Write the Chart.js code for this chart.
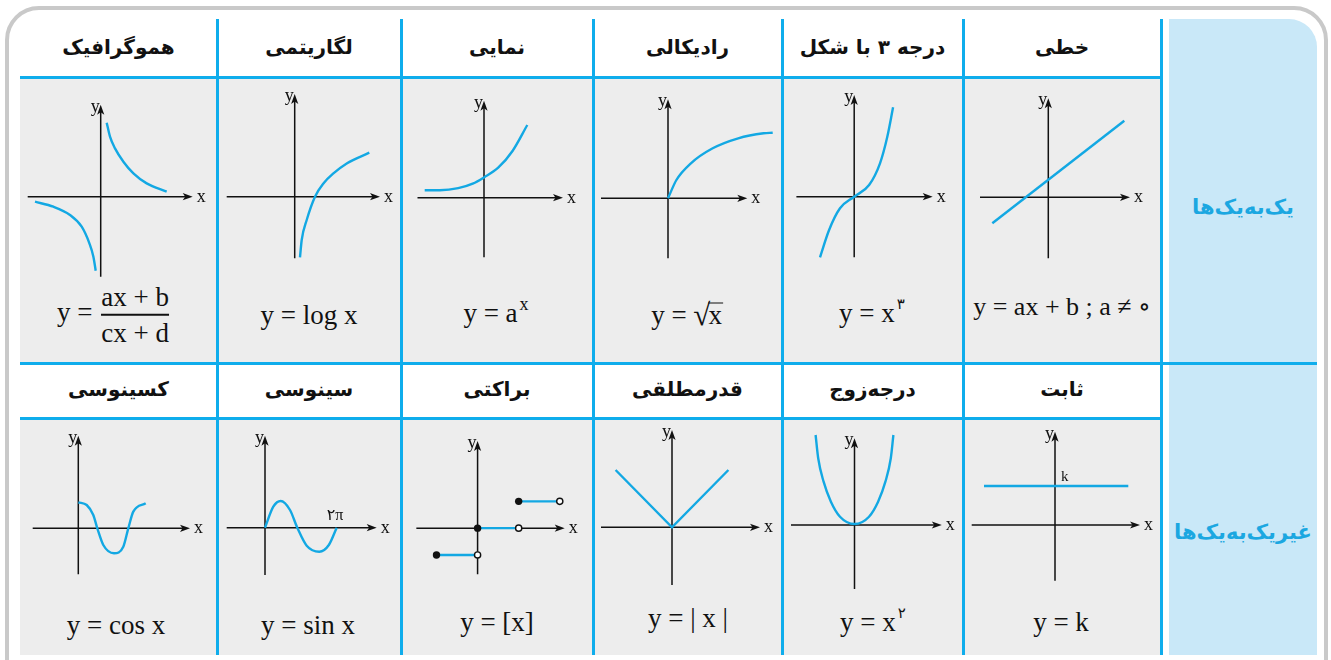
<!DOCTYPE html>
<html lang="fa">
<head>
<meta charset="utf-8">
<title>functions table</title>
<script src="https://cdn.jsdelivr.net/npm/chart.js@4.4.1/dist/chart.umd.min.js"></script>
<style>
  body { margin:0; width:1331px; height:660px; overflow:hidden; background:#fff; position:relative; }
  .abs { position:absolute; }
  .frame { left:5px; top:6px; width:1323px; height:720px; border:4px solid #c9c9c9; border-radius:34px; box-sizing:border-box; }
  .side { left:1169px; top:19px; width:148px; height:636px; background:#c9e8f8; border-top-right-radius:28px; }
  .grey { background:#ededed; }
  .blue { background:#0fadec; }
  .head { font-family:"DejaVu Sans", sans-serif; font-weight:bold; font-size:20px; text-align:center; direction:rtl; color:#111; }
  .side-label { font-family:"DejaVu Sans", sans-serif; font-weight:bold; font-size:21px; color:#1ba7e1; direction:rtl; text-align:center; width:148px; left:1169px; transform:translateY(-50%); }
  .formula { font-family:"Liberation Serif", "DejaVu Serif", serif; font-size:27px; line-height:1; white-space:nowrap; color:#111; transform:translate(-50%,-50%); }
  .formula sup { font-size:18px; vertical-align:0; position:relative; top:-12px; margin-left:2px; }
  .formula sup.fa { font-family:"DejaVu Sans", sans-serif; font-size:15px; top:-13px; }
  .frac { display:inline-flex; flex-direction:column; align-items:center; vertical-align:middle; margin-left:2px; }
  .frac .bar { display:block; width:100%; height:1.5px; background:#111; margin:3px 0 4px; }
  .rad { font-size:31px; position:relative; top:1px; }
  .ov { display:inline-block; line-height:22px; border-top:1.5px solid #111; margin-left:-2px; padding-right:1px; }
</style>
</head>
<body>
<div id="page"></div>
<script>
// ---- values ----
const titlesTop = ['هموگرافیک', 'لگاریتمی', 'نمایی', 'رادیکالی', 'درجه ۳ با شکل', 'خطی'];
const titlesBottom = ['کسینوسی', 'سینوسی', 'براکتی', 'قدرمطلقی', 'درجه‌زوج', 'ثابت'];
const groupLabels = ['یک‌به‌یک‌ها', 'غیریک‌به‌یک‌ها'];

const formulas = [
  'y = <span class="frac"><span>ax + b</span><i class="bar"></i><span>cx + d</span></span>',
  'y = log x',
  'y = a<sup>x</sup>',
  'y = <span class="rad">√</span><span class="ov">x</span>',
  'y = x<sup class="fa">۳</sup>',
  'y = ax + b ; a ≠ ∘',
  'y = cos x',
  'y = sin x',
  'y = [x]',
  'y = | x |',
  'y = x<sup class="fa">۲</sup>',
  'y = k'
];

// curves, [x, y] in graph units
const homographicRight = [[0.6,7.4],[0.93,6.0],[1.43,4.83],[2.27,3.5],[3.27,2.33],[4.6,1.33],[6.6,0.5]];
const homographicLeft = [[-6.57,-0.5],[-4.73,-1.0],[-3.07,-1.83],[-1.9,-3.0],[-1.13,-4.67],[-0.73,-6.0],[-0.5,-7.4]];
const logCurve = [[0.53,-6.06],[0.7,-4.33],[1.2,-2.33],[2.03,0],[2.87,1.33],[3.87,2.33],[5.2,3.33],[7.46,4.4]];
const expCurve = [[-5.93,0.75],[-4.4,0.75],[-2.58,0.95],[-1.13,1.4],[0,2.03],[1.42,3.0],[2.87,4.7],[4.33,7.27]];
const sqrtCurve = [[0,0],[0.84,1.83],[2.29,3.5],[4.47,5.0],[7.02,6.0],[9.56,6.5],[10.47,6.56]];
const cubeCurve = [[-3.42,-6.06],[-2.51,-3.33],[-1.42,-1.16],[0,0],[1.49,1.17],[2.58,3.34],[3.31,6.0],[3.89,8.94]];
const lineCurve = [[-5.6,-2.6],[7.6,7.66]];
const cosCurve = [[0,2.6],[0.84,2.33],[1.5,1.33],[1.9,0],[2.5,-1.67],[3.57,-2.5],[4.5,-1.84],[5.0,0],[5.5,1.67],[6.74,2.5]];
const sinCurve = [[0,0],[0.83,2.1],[1.57,2.67],[2.5,1.77],[3.23,0],[4.17,-1.8],[5.43,-2.4],[6.4,-1.7],[7.17,0]];
const floorLow = [[-1,-1],[0,-1]];
const floorMid = [[0,0],[1,0]];
const floorHigh = [[1,1],[2,1]];
const absCurve = [[-5.64,5.73],[0,0],[5.64,5.73]];
const evenCurve = [[-3.89,9.0],[-3.63,6.67],[-3.09,4.33],[-2.36,2.33],[-1.45,0.83],[0,0.1],[1.45,0.83],[2.36,2.33],[3.09,4.33],[3.63,6.67],[3.89,9.0]];
const constCurve = [[-7.1,3.9],[7.33,3.9]];

// axis extents [from, arrow tip]
const axisX = [[-7.3,9.2],[-6.8,8.53],[-6.65,7.9],[-6.7,7.93],[-5.78,7.85],[-6.83,8.17],
               [-4.56,11.17],[-3.83,11.17],[-1.49,2.12],[-7.1,8.8],[-6.35,8.73],[-8.33,8.5]];
const axisY = [[-8.0,9.2],[-6.16,10.27],[-5.96,9.7],[-6.0,9.9],[-6.06,10.17],[-6.1,9.9],
               [-4.6,9.26],[-4.73,9.2],[-1.72,3.25],[-5.77,9.73],[-6.4,8.67],[-5.57,9.33]];

// ---- layout ----
const colEdges = [20, 217, 401, 593, 782, 963, 1161];
const origins = [[100.7,196.7],[294.7,196.7],[484,197.7],[668,198.3],[854.2,196.7],[1048.3,197.3],
                 [78.3,528.3],[265,527.7],[476.4,529.3],[672,527.3],[854.5,525],[1055,525]];
const formulaPos = [[113,315],[309,315],[496,313],[687,313],[872,313],[1062,307],
                    [116,625],[308,625],[497,622],[688,618],[873,622],[1061,622]];
const CURVE = '#13a8e3';
const INK = '#111';

const page = document.getElementById('page');
function box(cls, css, html) {
  const d = document.createElement('div');
  d.className = 'abs ' + cls;
  Object.assign(d.style, css);
  if (html) d.innerHTML = html;
  page.appendChild(d);
  return d;
}

// table skeleton
box('frame', {});
box('side', {});
box('grey', {left:'20px', top:'77px', width:'1141px', height:'286px'});
box('grey', {left:'20px', top:'418px', width:'1141px', height:'237px'});
box('blue', {left:'20px', top:'75.5px', width:'1143px', height:'3px'});
box('blue', {left:'20px', top:'361.5px', width:'1297px', height:'3px'});
box('blue', {left:'20px', top:'416.5px', width:'1143px', height:'3px'});
colEdges.slice(1).forEach(x => box('blue', {left:(x - 1.5) + 'px', top:'19px', width:'3px', height:'636px'}));

// headers
titlesTop.forEach((t, i) => box('head', {left:colEdges[i] + 'px', width:(colEdges[i+1] - colEdges[i]) + 'px', top:'19px', height:'56px', lineHeight:'56px'}, t));
titlesBottom.forEach((t, i) => box('head', {left:colEdges[i] + 'px', width:(colEdges[i+1] - colEdges[i]) + 'px', top:'364px', height:'52px', lineHeight:'50px'}, t));
box('side-label', {top:'207px'}, groupLabels[0]);
box('side-label', {top:'532px'}, groupLabels[1]);

// formulas
formulas.forEach((f, i) => box('formula', {left:formulaPos[i][0] + 'px', top:formulaPos[i][1] + 'px', fontSize: i === 5 ? '26px' : '27px'}, f));

// ---- charts ----
function arrowHead(ctx, tx, ty, dx, dy) {
  const L = 10, W = 3.6, N = 2.5;
  const bx = tx - dx * L, by = ty - dy * L;
  const px = -dy, py = dx;
  ctx.beginPath();
  ctx.moveTo(tx, ty);
  ctx.lineTo(bx + px * W, by + py * W);
  ctx.lineTo(tx - dx * (L - N), ty - dy * (L - N));
  ctx.lineTo(bx - px * W, by - py * W);
  ctx.closePath();
  ctx.fill();
}

const axesPlugin = {
  id: 'axesArrows',
  beforeDatasetsDraw(chart, args, opts) {
    const {ctx, scales: {x, y}} = chart;
    const x0 = x.getPixelForValue(0), y0 = y.getPixelForValue(0);
    const xa = x.getPixelForValue(opts.ax[0]), xb = x.getPixelForValue(opts.ax[1]);
    const ya = y.getPixelForValue(opts.ay[0]), yb = y.getPixelForValue(opts.ay[1]);
    ctx.save();
    ctx.strokeStyle = INK;
    ctx.fillStyle = INK;
    ctx.lineWidth = 1.5;
    ctx.beginPath();
    ctx.moveTo(xa, y0); ctx.lineTo(xb - 6, y0);
    ctx.moveTo(x0, ya); ctx.lineTo(x0, yb + 6);
    ctx.stroke();
    arrowHead(ctx, xb, y0, 1, 0);
    arrowHead(ctx, x0, yb, 0, -1);
    ctx.font = '18px "Liberation Serif"';
    ctx.textBaseline = 'alphabetic';
    ctx.textAlign = 'left';
    ctx.fillText('x', xb + 4, y0 + 5);
    ctx.textAlign = 'right';
    ctx.fillText('y', x0 - 1, yb + 7);
    ctx.restore();
  },
  afterDatasetsDraw(chart, args, opts) {
    if (!opts.notes) return;
    const {ctx, scales: {x, y}} = chart;
    ctx.save();
    ctx.fillStyle = INK;
    opts.notes.forEach(n => {
      ctx.font = n.size + 'px "Liberation Serif", "DejaVu Sans"';
      ctx.textAlign = n.align;
      ctx.textBaseline = 'alphabetic';
      ctx.fillText(n.text, x.getPixelForValue(n.x), y.getPixelForValue(n.y));
    });
    ctx.restore();
  }
};

function curve(points, straight) {
  return {
    data: points.map(([x, y]) => ({x, y})),
    showLine: true,
    borderColor: CURVE,
    borderWidth: 2.4,
    pointRadius: 0,
    cubicInterpolationMode: straight ? 'default' : 'monotone',
    tension: 0,
    clip: false,
    fill: false
  };
}

function step(points) {
  return Object.assign(curve(points, true), {
    pointRadius: [3.7, 3.1],
    pointBackgroundColor: [INK, '#fff'],
    pointBorderColor: INK,
    pointBorderWidth: [0, 1.4],
    pointStyle: 'circle'
  });
}

const chartSets = [
  [curve(homographicRight), curve(homographicLeft)],
  [curve(logCurve)],
  [curve(expCurve)],
  [curve(sqrtCurve)],
  [curve(cubeCurve)],
  [curve(lineCurve, true)],
  [curve(cosCurve)],
  [curve(sinCurve)],
  [step(floorLow), step(floorMid), step(floorHigh)],
  [curve(absCurve, true)],
  [curve(evenCurve)],
  [curve(constCurve, true)]
];

const notes = {
  7: [{text:'۲π', x:7.0, y:0.75, align:'center', size:16}],
  11: [{text:'k', x:0.6, y:4.4, align:'left', size:15}]
};

chartSets.forEach((datasets, i) => {
  const col = i % 6, row = Math.floor(i / 6);
  const left = colEdges[col] + 2, w = colEdges[col + 1] - colEdges[col] - 4;
  const top = row ? 420 : 79, h = row ? 180 : 206;
  const [ux, uy] = i === 8 ? [43.6, 28.5] : [10, 10];
  const [ox, oy] = origins[i];

  const cv = document.createElement('canvas');
  cv.width = w; cv.height = h;
  cv.className = 'abs';
  Object.assign(cv.style, {left:left + 'px', top:top + 'px', width:w + 'px', height:h + 'px'});
  page.appendChild(cv);

  new Chart(cv, {
    type: 'scatter',
    data: { datasets },
    options: {
      responsive: false,
      animation: false,
      devicePixelRatio: 1,
      layout: { padding: 0 },
      events: [],
      plugins: {
        legend: { display: false },
        tooltip: { enabled: false },
        axesArrows: { ax: axisX[i], ay: axisY[i], notes: notes[i] }
      },
      scales: {
        x: { type: 'linear', display: false, min: (left - ox) / ux, max: (left + w - ox) / ux },
        y: { type: 'linear', display: false, min: (oy - top - h) / uy, max: (oy - top) / uy }
      }
    },
    plugins: [axesPlugin]
  });
});
</script>
</body>
</html>
